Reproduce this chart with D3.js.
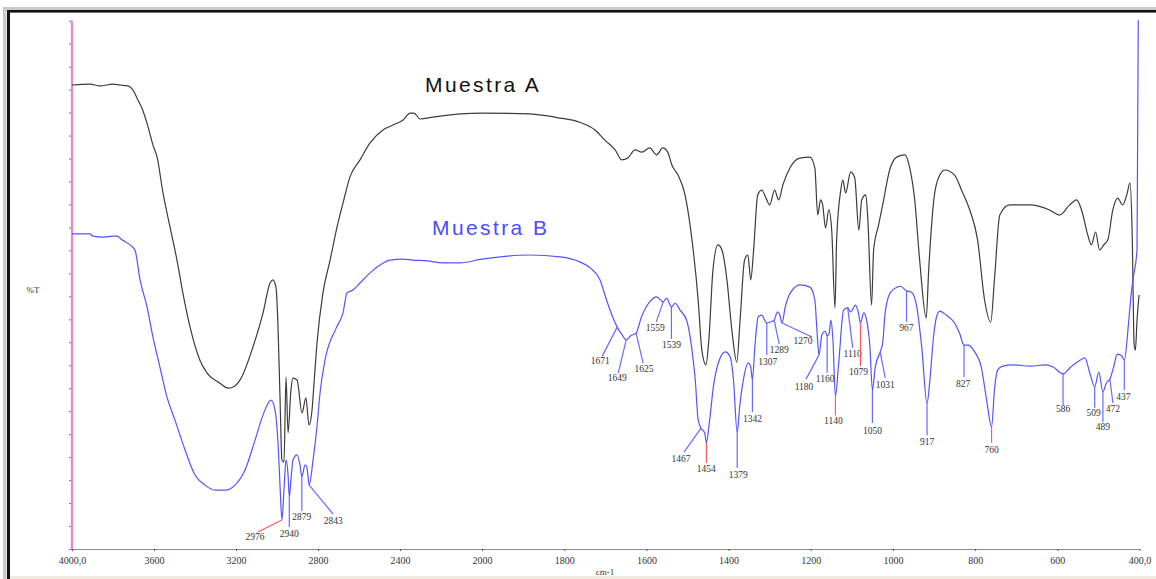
<!DOCTYPE html>
<html>
<head>
<meta charset="utf-8">
<script src="https://cdn.jsdelivr.net/npm/d3@7"></script>
<style>
  html, body { margin: 0; padding: 0; background: #fff; }
  svg { display: block; }
</style>
</head>
<body>
<svg id="chart" width="1156" height="579"></svg>
<script>
// ---- Spectrum A (black): wavenumber (cm-1) and transmittance (%T, arbitrary offset) ----
const wavenumbersA = [
  4000, 3912, 3863, 3800, 3766, 3727, 3702, 3678, 3659, 3629, 3605, 3585, 3556, 3522, 3488, 3459,
  3424, 3376, 3341, 3278, 3239, 3205, 3180, 3117, 3068, 3034, 3020, 3005, 2995, 2985, 2976, 2966,
  2956, 2946, 2932, 2922, 2902, 2878, 2859, 2844, 2829, 2820, 2805, 2776, 2741, 2707, 2678, 2644,
  2595, 2546, 2483, 2434, 2385, 2351, 2332, 2302, 2239, 2107, 2000, 1884, 1810, 1762, 1725, 1701,
  1676, 1660, 1645, 1628, 1611, 1592, 1575, 1560, 1548, 1538, 1523, 1506, 1489, 1474, 1465, 1455,
  1448, 1438, 1426, 1416, 1404, 1392, 1380, 1372, 1361, 1353, 1346, 1339, 1329, 1319, 1309, 1300,
  1288, 1278, 1268, 1251, 1227, 1202, 1190, 1183, 1176, 1171, 1164, 1156, 1149, 1141, 1137, 1127,
  1122, 1115, 1103, 1093, 1083, 1076, 1066, 1061, 1052, 1047, 1035, 1025, 1008, 991, 971, 959,
  947, 935, 919, 913, 899, 886, 874, 850, 833, 813, 794, 777, 762, 753, 740, 716,
  667, 619, 594, 570, 553, 541, 526, 517, 507, 497, 487, 477, 465, 453, 441, 431,
  423, 418, 413, 410, 406, 401
];
const transmittanceA = [
  101.0, 101.2, 100.8, 101.2, 101.0, 100.8, 99.9, 97.7, 96.0, 91.9, 87.9, 85.3, 77.5, 70.1, 62.9, 55.7,
  48.3, 41.1, 38.3, 36.1, 35.0, 35.5, 36.8, 44.0, 51.4, 57.9, 58.6, 57.0, 48.3, 32.4, 19.4, 18.9,
  37.4, 25.3, 34.6, 37.2, 36.8, 29.6, 32.9, 27.0, 30.3, 35.7, 44.8, 55.7, 62.9, 70.1, 75.3, 81.0,
  84.7, 88.4, 91.2, 92.3, 93.4, 94.9, 94.9, 93.6, 94.0, 94.7, 94.9, 94.7, 93.8, 92.9, 91.2, 89.0,
  86.9, 84.7, 85.1, 86.9, 86.4, 87.3, 85.8, 87.3, 86.4, 83.6, 81.4, 77.1, 67.3, 54.2, 43.3, 40.1,
  45.5, 60.7, 66.2, 65.1, 58.6, 47.7, 40.7, 49.8, 62.9, 64.0, 58.6, 65.1, 77.1, 78.1, 76.4, 74.9,
  78.1, 76.0, 79.2, 82.9, 85.1, 85.3, 82.9, 72.7, 76.0, 74.9, 69.9, 73.8, 69.4, 52.5, 67.3, 78.1,
  80.3, 77.5, 82.1, 80.8, 69.4, 76.0, 77.1, 71.6, 53.1, 65.1, 70.5, 74.9, 82.5, 85.3, 85.8, 82.9,
  76.0, 62.9, 50.3, 60.7, 77.1, 81.4, 82.5, 81.4, 78.1, 73.8, 67.3, 54.2, 49.4, 58.6, 72.7, 74.9,
  74.9, 73.8, 72.7, 74.9, 76.0, 73.8, 68.4, 66.2, 69.0, 65.1, 66.2, 67.3, 73.8, 76.4, 74.9, 77.1,
  79.7, 69.4, 44.4, 43.3, 49.8, 55.3
];

// ---- Spectrum B (blue) ----
const wavenumbersB = [
  4000, 3912, 3898, 3849, 3800, 3780, 3756, 3717, 3693, 3668, 3634, 3605, 3571, 3537, 3498, 3449,
  3400, 3351, 3302, 3254, 3205, 3156, 3107, 3068, 3029, 3010, 2995, 2985, 2976, 2966, 2956, 2946,
  2940, 2932, 2922, 2902, 2888, 2879, 2863, 2854, 2843, 2824, 2805, 2790, 2766, 2709, 2678, 2659,
  2629, 2595, 2546, 2498, 2449, 2385, 2337, 2268, 2190, 2107, 2000, 1956, 1884, 1810, 1762, 1737,
  1713, 1697, 1682, 1671, 1659, 1649, 1638, 1625, 1612, 1592, 1575, 1559, 1551, 1539, 1530, 1518,
  1502, 1490, 1481, 1474, 1467, 1458, 1454, 1446, 1437, 1425, 1408, 1396, 1388, 1379, 1373, 1364,
  1352, 1346, 1342, 1336, 1328, 1320, 1307, 1298, 1289, 1281, 1275, 1270, 1262, 1250, 1226, 1202,
  1190, 1185, 1180, 1173, 1165, 1160, 1155, 1151, 1146, 1140, 1132, 1120, 1110, 1103, 1091, 1084,
  1079, 1071, 1064, 1056, 1050, 1043, 1031, 1025, 1019, 1007, 990, 982, 967, 955, 942, 930,
  917, 910, 902, 894, 886, 870, 850, 838, 827, 817, 801, 785, 772, 760, 753, 745,
  733, 708, 667, 627, 610, 586, 570, 545, 533, 521, 509, 499, 489, 481, 472, 463,
  454, 443, 437, 426, 420, 416, 406, 403
];
const transmittanceB = [
  68.6, 68.6, 68.1, 67.9, 68.1, 68.1, 67.3, 66.2, 65.1, 58.6, 52.7, 46.1, 39.6, 33.1, 28.1, 21.6,
  16.1, 13.9, 12.8, 12.8, 13.9, 17.2, 23.7, 29.2, 32.4, 30.3, 23.1, 13.5, 6.3, 12.8, 19.4, 16.1,
  11.3, 15.0, 19.4, 20.5, 18.3, 15.7, 18.3, 17.8, 13.9, 19.4, 26.6, 34.0, 41.1, 48.3, 51.4, 55.7,
  56.4, 57.9, 60.1, 61.8, 62.9, 63.1, 62.9, 62.7, 62.3, 62.3, 63.1, 63.6, 64.0, 63.6, 62.5, 61.2,
  58.6, 54.2, 50.5, 48.3, 46.6, 45.5, 46.4, 47.0, 50.5, 53.8, 54.9, 53.8, 54.6, 52.7, 53.5, 52.0,
  49.8, 44.0, 36.8, 28.1, 26.3, 25.3, 23.1, 28.1, 35.3, 40.5, 42.9, 41.8, 36.8, 25.3, 30.9, 36.8,
  40.5, 39.6, 36.8, 44.0, 50.5, 50.9, 49.2, 49.4, 49.8, 51.6, 50.9, 49.2, 52.7, 55.7, 57.5, 57.0,
  54.2, 47.7, 42.2, 46.6, 47.4, 46.4, 47.0, 49.8, 45.5, 33.2, 40.5, 52.0, 52.5, 51.6, 53.1, 51.4,
  49.2, 51.4, 49.8, 44.0, 34.6, 39.6, 42.9, 44.8, 51.4, 55.7, 57.0, 57.2, 56.2, 55.9, 52.7, 44.0,
  31.7, 36.8, 45.5, 50.5, 51.8, 50.9, 49.2, 47.0, 44.4, 44.4, 42.9, 39.6, 32.4, 26.6, 34.6, 39.0,
  39.8, 40.1, 39.8, 40.1, 39.6, 38.1, 39.4, 41.1, 41.6, 38.3, 35.3, 38.5, 34.2, 36.1, 37.0, 39.6,
  42.4, 42.0, 41.1, 49.8, 55.7, 58.6, 65.1, 115.1
];

// ---- Band assignments marked on spectrum B ----
const peakWavenumbers = [
  2976, 2940, 2879, 2843, 1671, 1649, 1625, 1559, 1539, 1467, 1454, 1379, 1342, 1307, 1289, 1270,
  1180, 1160, 1140, 1110, 1079, 1050, 1031, 967, 917, 827, 760, 586, 509, 489, 472, 437
];
const highlightedPeaks = [2976, 1454, 1140, 1079, 760];

// ---- Axis ticks ----
const xTickValues = [4000, 3600, 3200, 2800, 2400, 2000, 1800, 1600, 1400, 1200, 1000, 800, 600, 400];
const xTickLabels = ["4000,0", "3600", "3200", "2800", "2400", "2000", "1800", "1600", "1400", "1200", "1000", "800", "600", "400,0"];
const yTickValues = d3.range(0, 116, 5);
const seriesNames = ["Muestra A", "Muestra B"];

// Leader-line layout for each band label: [line dx, line dy, text dx, text dy]
const labelLayout = {
  2976: [-24, 12, -3, 8],   2940: [0, 30, 0, 10],    2879: [0, 34, 0, 9.5],   2843: [24, 29, 0, 10],
  1671: [-15, 29, -2, 7.5], 1649: [-8, 33, -1, 8.5], 1625: [7, 30, 1, 8.5],   1559: [-7, 20, -1, 9.5],
  1539: [0, 32, 0, 9.5],    1467: [-17, 24, -3, 9.5],1454: [0, 20, 0, 9.5],   1379: [0, 35, 1, 10.5],
  1342: [0, 32, 0, 10.5],   1307: [0, 32, 1, 10.5],  1289: [5, 24, 0, 8.5],   1270: [30, 14, -9, 7.5],
  1180: [-13, 24, -2, 10.5],1160: [0, 37, -2, 9.5],  1140: [0, 19, -2, 8.5],  1110: [5, 40, 0, 9.5],
  1079: [0, 43, -2, 9.5],   1050: [0, 33, 0, 10.5],  1031: [5, 26, 0, 10.5],  967: [0, 31, 0, 9],
  917: [0, 32, 0, 9.5],     827: [0, 32, -1, 10],    760: [0, 16, 0, 10.5],   586: [0, 31, 0, 7.5],
  509: [0, 21, -1, 8.5],    489: [0, 30, 0, 8.5],    472: [3, 24, 0, 8.5],    437: [0, 30, -1, 9.5]
};

const svg = d3.select("#chart");
const W = 1156, H = 579;

// Scale change at 2000 cm-1 (expanded fingerprint region)
const x = d3.scaleLinear().domain([4000, 2000, 400]).range([72, 482, 1139.5]);
const y = d3.scaleLinear().domain([0, 115]).range([549, 20.7]);

svg.append("rect").attr("width", W).attr("height", H).attr("fill", "#fff");

// window frame
svg.append("rect").attr("x", 3).attr("y", 7).attr("width", W).attr("height", 3).attr("fill", "#c9c9c9");
svg.append("rect").attr("x", 3).attr("y", 7).attr("width", 3.5).attr("height", H).attr("fill", "#c9c9c9");
svg.append("rect").attr("x", 7).attr("y", 10).attr("width", W).attr("height", 2.6).attr("fill", "#111");
svg.append("rect").attr("x", 7).attr("y", 10).attr("width", 3).attr("height", H).attr("fill", "#111");
svg.append("rect").attr("x", 10).attr("y", 576).attr("width", W).attr("height", 3).attr("fill", "#eeebe2");

// x axis
const xAxis = svg.append("g").attr("transform", `translate(0,${y(0)})`)
  .call(d3.axisBottom(x).tickValues(xTickValues).tickSize(2).tickPadding(6)
    .tickFormat((d, i) => xTickLabels[i]));
xAxis.select(".domain").attr("stroke", "#8a8a8a").attr("d", `M${x(4000)},0.5H${x(400)}`);
xAxis.selectAll(".tick line").attr("stroke", "#555");
xAxis.selectAll(".tick text").attr("font-family", "'Liberation Serif', serif").attr("font-size", 10).attr("fill", "#333");

// y axis (ticks only, to the left of the marker line)
const yAxis = svg.append("g").attr("transform", `translate(${x(4000)},0)`)
  .call(d3.axisLeft(y).tickValues(yTickValues).tickSize(3).tickFormat(""));
yAxis.select(".domain").remove();
yAxis.selectAll(".tick line").attr("stroke", "#777");

svg.append("line")
  .attr("x1", x(4000)).attr("x2", x(4000))
  .attr("y1", y(115)).attr("y2", y(0))
  .attr("stroke", "#e883d4").attr("stroke-width", 2.2);

// axis titles
svg.append("text").attr("x", 33).attr("y", 293).attr("text-anchor", "middle")
  .attr("font-family", "'Liberation Serif', serif").attr("font-size", 9).attr("fill", "#333").text("%T");
svg.append("text").attr("x", 605).attr("y", 575).attr("text-anchor", "middle")
  .attr("font-family", "'Liberation Serif', serif").attr("font-size", 9).attr("fill", "#333").text("cm-1");

// spectra
const line = d3.line().x(d => x(d[0])).y(d => y(d[1])).curve(d3.curveMonotoneX);
const seriesA = d3.zip(wavenumbersA, transmittanceA);
const seriesB = d3.zip(wavenumbersB, transmittanceB);

svg.append("path").datum(seriesA).attr("d", line)
  .attr("fill", "none").attr("stroke", "#3c3c3c").attr("stroke-width", 1.2).attr("stroke-linejoin", "round");
svg.append("path").datum(seriesB).attr("d", line)
  .attr("fill", "none").attr("stroke", "#5454ff").attr("stroke-width", 1.2).attr("stroke-linejoin", "round");

// band labels with leader lines
const tOf = new Map(seriesB);
const peaks = svg.append("g");
peakWavenumbers.forEach(wn => {
  const px = x(wn), py = y(tOf.get(wn));
  const [dx, dy, tx, ty] = labelLayout[wn];
  peaks.append("line")
    .attr("x1", px).attr("y1", py).attr("x2", px + dx).attr("y2", py + dy)
    .attr("stroke", highlightedPeaks.includes(wn) ? "#ff5a5a" : "#6a6aff").attr("stroke-width", 1.2);
  peaks.append("text")
    .attr("x", px + dx + tx).attr("y", py + dy + ty)
    .attr("text-anchor", "middle")
    .attr("font-family", "'Liberation Serif', serif").attr("font-size", 9.5).attr("fill", "#333")
    .text(wn);
});

// series names
svg.append("text").attr("x", 425).attr("y", 92)
  .attr("font-family", "'Liberation Sans', Arial, sans-serif").attr("font-size", 21)
  .attr("letter-spacing", 2.4).attr("fill", "#111").text(seriesNames[0]);
svg.append("text").attr("x", 432).attr("y", 235)
  .attr("font-family", "'Liberation Sans', Arial, sans-serif").attr("font-size", 21)
  .attr("letter-spacing", 2.4).attr("fill", "#4b4bff").text(seriesNames[1]);
</script>
</body>
</html>
